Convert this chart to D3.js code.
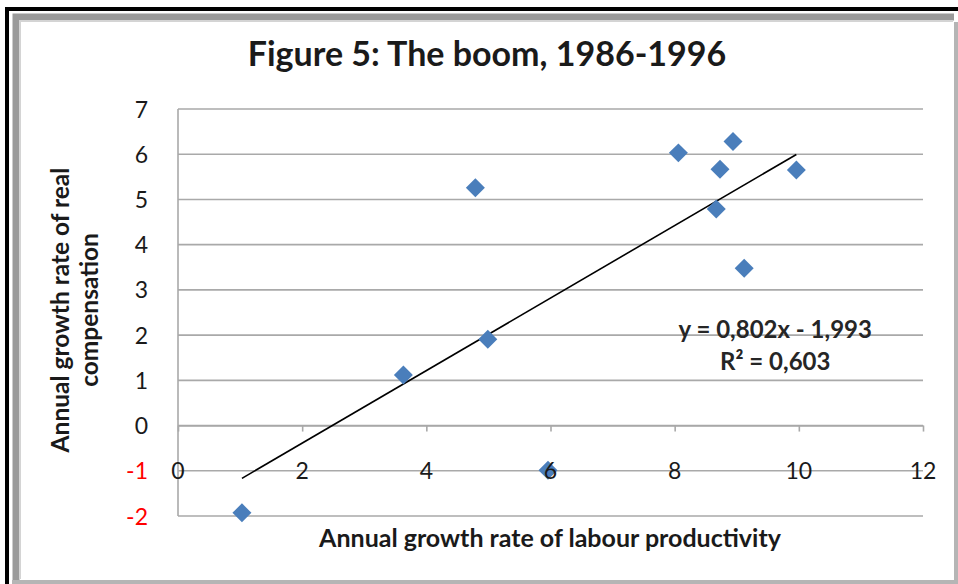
<!DOCTYPE html>
<html>
    <head>
        <meta charset="utf-8">
        <title>Figure 5: The boom, 1986-1996</title>
        <script src="https://d3js.org/d3.v7.min.js"></script>
        <style>
            body { margin: 0; background: #fff; }
            text { font-family: Lato, "Open Sans", sans-serif; fill: #1a1a1a; }
        </style>
    </head>
    <body>
        <div id="chart"></div>
        <script>
            //  values
            const productivity = [1.03, 3.63, 4.79, 4.99, 5.96, 8.06, 8.67, 8.73, 8.94, 9.12, 9.96];
            const compensation = [-1.93, 1.12, 5.26, 1.91, -0.99, 6.03, 4.79, 5.67, 6.28, 3.48, 5.65];
            const xTicks = [0, 2, 4, 6, 8, 10, 12];
            const yTicks = [-2, -1, 0, 1, 2, 3, 4, 5, 6, 7];
            const slope = 0.802, intercept = -1.993;
            const eqLabels = ["y = 0,802x - 1,993", "R² = 0,603"];

            const width = 958;
            const height = 584;
            const margin = {top: 109, right: 35, bottom: 68, left: 178};

            const svg = d3.select("#chart")
                .append("svg")
                    .attr("width", width)
                    .attr("height", height);

            //  frame, black outer line and a grey bevel
            svg.append("path")
                .attr("d", `M7,${height} V9 H${width}`)
                .attr("fill", "none")
                .attr("stroke", "#000")
                .attr("stroke-width", 4);
            svg.append("path")
                .attr("d", `M16,${height - 4} V17 H${width - 4}`)
                .attr("fill", "none")
                .attr("stroke", "#9a9a9a")
                .attr("stroke-width", 7);
            svg.append("path")
                .attr("d", `M20,${height - 5} V21 H${width - 5}`)
                .attr("fill", "none")
                .attr("stroke", "#d4d4d4")
                .attr("stroke-width", 2);
            svg.append("path")
                .attr("d", `M${width - 2},22 V${height - 2} H12`)
                .attr("fill", "none")
                .attr("stroke", "#b5b5b5")
                .attr("stroke-width", 4);

            const x = d3.scaleLinear()
                .domain([0, 12])
                .range([margin.left, width - margin.right]);
            const y = d3.scaleLinear()
                .domain([-2, 7])
                .range([height - margin.bottom, margin.top]);

            //  gridlines
            svg.append("g")
                .selectAll("line")
                .data(yTicks)
                .join("line")
                    .attr("x1", x(0))
                    .attr("x2", x(12))
                    .attr("y1", d => y(d))
                    .attr("y2", d => y(d))
                    .attr("stroke", "#a9a9a9")
                    .attr("stroke-width", 1.6);

            //  y axis line + labels
            svg.append("line")
                .attr("x1", x(0)).attr("x2", x(0))
                .attr("y1", y(7)).attr("y2", y(-2))
                .attr("stroke", "#a9a9a9")
                .attr("stroke-width", 1.6);

            svg.append("g")
                .selectAll("text")
                .data(yTicks)
                .join("text")
                    .attr("x", x(0) - 30)
                    .attr("y", d => y(d) + 8.5)
                    .attr("text-anchor", "end")
                    .attr("font-size", 23)
                    .style("fill", d => d < 0 ? "#ff0000" : "#1a1a1a")
                    .text(d => d);

            //  x axis through zero, ticks pointing down
            const xAxis = d3.axisBottom(x)
                .tickValues(xTicks)
                .tickSize(6)
                .tickSizeOuter(0)
                .tickFormat("");
            const gx = svg.append("g")
                .attr("transform", `translate(0,${y(0)})`)
                .call(xAxis);
            gx.select(".domain").attr("stroke", "#a9a9a9").attr("stroke-width", 1.6);
            gx.selectAll(".tick line").attr("stroke", "#a9a9a9").attr("stroke-width", 1.6);

            //  trendline over the data range
            const xExt = d3.extent(productivity);
            svg.append("line")
                .attr("x1", x(xExt[0]))
                .attr("y1", y(slope * xExt[0] + intercept))
                .attr("x2", x(xExt[1]))
                .attr("y2", y(slope * xExt[1] + intercept))
                .attr("stroke", "#000")
                .attr("stroke-width", 1.6);

            //  diamonds
            const points = productivity.map((v, i) => ({x: v, y: compensation[i]}));
            svg.append("g")
                .selectAll("path")
                .data(points)
                .join("path")
                    .attr("d", d3.symbol(d3.symbolSquare, 180))
                    .attr("transform", d => `translate(${x(d.x)},${y(d.y)}) rotate(45)`)
                    .attr("fill", "#4a7ebb");

            //  x tick labels sit on the -1 gridline, over the marks
            svg.append("g")
                .selectAll("text")
                .data(xTicks)
                .join("text")
                    .attr("x", d => x(d))
                    .attr("y", y(0) + 53)
                    .attr("text-anchor", "middle")
                    .attr("font-size", 23)
                    .text(d => d);

            //  equation label
            svg.append("g")
                .selectAll("text")
                .data(eqLabels)
                .join("text")
                    .attr("x", x(9.62))
                    .attr("y", (d, i) => y(1.94) + i * 32)
                    .attr("text-anchor", "middle")
                    .attr("font-size", 24)
                    .attr("font-weight", "bold")
                    .style("fill", "#262626")
                    .text(d => d);

            //  titles
            svg.append("text")
                .attr("x", 487)
                .attr("y", 66)
                .attr("text-anchor", "middle")
                .attr("font-size", 34)
                .attr("font-weight", "bold")
                .text("Figure 5: The boom, 1986-1996");

            svg.append("text")
                .attr("x", 550)
                .attr("y", 547)
                .attr("text-anchor", "middle")
                .attr("font-size", 25)
                .attr("font-weight", "bold")
                .text("Annual growth rate of labour productivity");

            const yTitle = ["Annual growth rate of real", "compensation"];
            svg.append("g")
                .selectAll("text")
                .data(yTitle)
                .join("text")
                    .attr("transform", (d, i) => `translate(${69 + i * 29},310) rotate(-90)`)
                    .attr("text-anchor", "middle")
                    .attr("font-size", 24.5)
                    .attr("font-weight", "bold")
                    .text(d => d);
        </script>
    </body>
</html>
